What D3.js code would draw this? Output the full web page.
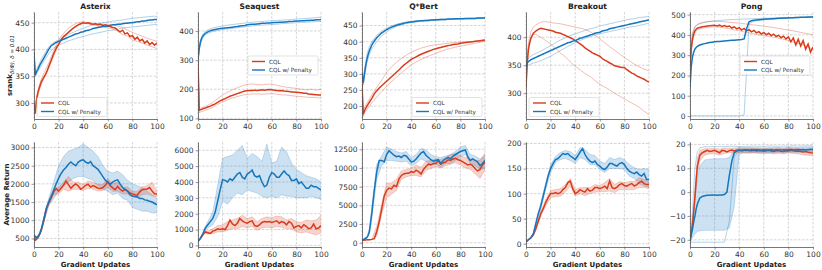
<!DOCTYPE html>
<html>
<head>
<meta charset="utf-8">
<script src="https://cdn.jsdelivr.net/npm/d3@7"></script>
<style>
  body { margin: 0; background: #fff; }
  svg text { font-family: "DejaVu Sans", sans-serif; }
</style>
</head>
<body>
<div class="chart"></div>
<script>
// x grids: fine one for the mean curves, coarse one for seeds / bands
const XF = [0,1,2,3,4,5,6,8,10,12,14,16,18,20,22,24,26,28,30,32,34,36,38,40,42,44,46,48,50,52,54,56,58,60,62,64,66,68,70,72,74,76,78,80,82,84,86,88,90,92,94,96,98,100]
const XC = [0,1,2,4,6,8,12,16,20,24,28,32,36,40,44,48,52,56,60,64,68,72,76,80,84,88,92,96,100]

const games = ["Asterix", "Seaquest", "Q*Bert", "Breakout", "Pong"]
const xTicks = [0, 20, 40, 60, 80, 100]

// ---------- srank (top row) ----------
const asterixSrankCQL = [300,280,305,318,326,333,340,348,356,368,380,392,402,410,418,424,428,432,436,440,443,446,448,450,449,450,448,447,448,446,447,445,446,444,443,441,440,436,433,436,429,431,424,426,419,423,416,419,412,416,409,413,408,412]
const asterixSrankPen = [395,352,358,362,367,372,376,384,392,400,407,410,413,415,417,419,421,423,425,427,429,430,432,433,435,436,437,439,440,441,442,443,443,444,445,446,446,447,447,448,449,449,450,450,451,452,452,453,453,454,455,455,456,456]
const asterixSrankCQLSeedA = [300,282,310,330,345,355,375,398,418,430,440,446,450,452,450,449,448,447,447,446,444,441,436,432,428,425,421,418,415]
const asterixSrankCQLSeedB = [300,285,300,322,335,345,365,388,408,422,432,440,446,449,448,446,444,443,441,438,434,428,425,418,415,412,408,405,402]
const asterixSrankPenSeedA = [395,355,362,372,382,390,405,413,418,423,428,432,436,440,443,446,448,450,451,453,454,455,457,458,459,460,461,462,462]
const asterixSrankPenSeedB = [395,350,354,362,370,378,392,403,408,412,416,419,422,424,427,429,431,433,435,436,438,440,441,442,443,444,445,446,447]

const seaquestSrankCQL = [295,128,130,131,133,135,136,139,142,146,150,155,160,164,168,172,176,179,182,185,188,191,194,195,196,196,197,196,197,198,197,198,199,198,197,196,195,196,194,193,192,191,191,190,189,188,186,186,184,183,182,181,180,180]
const seaquestSrankPen = [300,340,362,375,383,388,392,397,401,403,405,407,408,409,410,411,412,413,414,415,417,418,419,421,422,423,423,424,425,426,426,427,427,428,429,429,430,430,431,431,432,432,433,434,434,435,435,436,436,437,437,438,438,439]
const seaquestSrankCQLSeedA = [300,130,134,138,142,145,155,168,180,190,198,205,212,217,218,216,215,217,218,214,210,207,205,203,200,198,200,197,200]
const seaquestSrankCQLSeedB = [290,120,122,125,128,131,138,148,156,164,170,175,180,182,184,184,183,184,185,183,181,180,178,176,175,173,172,171,170]
const seaquestSrankPenSeedA = [300,345,370,390,398,404,410,414,417,420,422,424,426,428,430,431,432,434,435,436,437,438,439,441,442,443,444,446,447]
const seaquestSrankPenSeedB = [300,335,355,378,386,392,398,402,405,407,409,411,413,415,417,419,420,421,422,423,425,426,427,428,429,430,431,432,433]

const qbertSrankCQL = [270,175,185,193,200,206,212,224,238,248,256,263,270,277,284,291,298,305,312,320,327,333,339,345,349,353,357,361,364,367,370,373,376,378,380,382,384,386,388,389,391,392,393,395,396,397,398,399,400,401,402,403,404,405]
const qbertSrankPen = [300,272,300,325,345,360,372,390,402,412,420,427,432,437,441,445,448,451,453,455,457,459,460,461,462,463,464,465,465,466,466,467,467,468,468,469,469,469,470,470,470,471,471,471,471,472,472,472,472,472,473,473,473,473]
const qbertSrankCQLSeedA = [270,180,195,210,222,235,258,280,305,322,336,348,358,367,374,380,384,388,390,392,394,396,397,398,399,400,401,402,403]
const qbertSrankCQLSeedB = [265,168,178,190,200,210,228,245,262,276,290,303,316,328,337,345,352,358,364,370,375,379,383,386,389,392,395,398,402]
const qbertSrankPenSeedA = [305,285,315,360,385,400,420,433,442,449,454,458,461,463,465,466,467,468,469,470,470,471,471,472,472,473,473,474,474]
const qbertSrankPenSeedB = [295,265,290,335,360,378,400,418,430,440,447,452,456,459,461,463,464,465,466,467,468,469,469,470,470,471,471,472,472]

const breakoutSrankCQL = [310,355,378,390,398,403,407,411,414,416,415,414,413,412,411,409,408,407,405,403,401,399,397,394,391,388,385,381,378,375,372,370,368,366,362,359,357,354,352,349,348,347,346,346,342,339,336,334,331,329,327,325,322,320]
const breakoutSrankPen = [345,354,357,358,360,361,362,364,366,368,370,372,374,376,378,380,382,384,386,388,390,391,393,394,396,398,399,401,402,404,405,407,408,409,411,412,413,415,416,417,418,419,420,421,422,423,424,425,426,427,428,429,430,431]
const breakoutSrankCQLSeedA = [310,365,390,410,418,422,427,428,426,425,424,422,420,418,416,414,410,404,397,390,383,377,370,364,358,352,347,343,340]
const breakoutSrankCQLSeedB = [310,355,385,400,405,405,400,394,388,380,372,365,356,348,342,335,330,323,316,311,306,300,295,290,285,280,275,268,262]
const breakoutSrankPenSeedA = [350,360,363,366,369,371,375,380,385,390,395,399,403,406,409,412,415,417,420,422,424,426,428,430,432,433,435,436,437]
const breakoutSrankPenSeedB = [340,348,350,352,354,355,358,362,366,371,376,381,386,390,394,398,401,404,406,408,410,412,414,416,418,419,421,423,425]

const pongSrankCQL = [250,330,378,405,420,428,433,437,440,442,444,445,446,447,444,448,442,446,440,444,434,440,430,436,424,432,420,426,415,422,410,416,404,412,400,408,396,404,392,398,386,394,380,390,366,385,350,378,345,372,330,355,315,340]
const pongSrankPen = [140,245,290,315,330,338,344,350,354,357,360,362,364,366,367,368,369,370,371,372,373,374,375,376,377,380,430,465,470,472,474,475,476,477,478,479,480,480,481,482,482,483,484,484,485,485,486,486,487,487,487,488,488,488]
const pongSrankCQLSeedA = [240,360,410,440,452,458,464,467,468,467,465,462,460,458,455,452,449,446,443,440,436,432,428,424,420,415,410,405,400]
const pongSrankCQLSeedB = [250,320,370,410,425,430,435,438,440,438,434,430,425,420,415,410,405,400,396,392,388,384,378,372,365,358,350,340,330]
const pongSrankPenSeedA = [0,0,0,0,0,0,0,0,0,0,0,0,0,0,5,455,468,472,475,477,479,480,482,483,484,485,486,487,487]
const pongSrankPenSeedB = [150,330,400,440,450,455,462,466,469,471,473,475,476,477,478,479,480,481,482,483,484,485,485,486,486,487,487,488,488]

// ---------- average return (bottom row) ----------
const asterixRetCQL = [550,450,480,520,580,650,740,1000,1300,1480,1620,1780,1870,1800,1880,1960,2080,1980,1880,1950,2000,1940,1850,1900,1960,1990,1910,1950,1920,1880,1870,1900,1960,2060,1950,1890,1840,1930,1850,1800,1850,1810,1750,1720,1700,1690,1780,1840,1850,1860,1900,1800,1730,1720]
const asterixRetPen = [600,550,520,540,580,650,750,1020,1330,1500,1650,1820,2000,2150,2280,2380,2450,2540,2600,2540,2500,2600,2640,2660,2600,2560,2610,2500,2450,2400,2300,2200,2100,2040,1990,2050,2090,2110,2000,1900,1850,1800,1700,1660,1650,1640,1600,1600,1560,1550,1520,1500,1460,1420]
const asterixRetCQLLo = [520,430,450,550,700,950,1420,1700,1720,1850,1800,1850,1850,1820,1880,1850,1800,1820,1900,1800,1800,1720,1720,1650,1620,1700,1720,1680,1640]
const asterixRetCQLHi = [580,480,520,620,800,1080,1560,1880,1900,2050,2200,2050,2050,1980,2080,2050,1980,1980,2150,2000,2050,1900,1920,1800,1780,1920,1950,2050,1800]
const asterixRetPenLo = [580,520,490,540,700,950,1400,1600,1800,1950,2050,2150,2200,2200,2150,2100,1950,1850,1800,1700,1750,1600,1550,1350,1300,1250,1250,1200,1200]
const asterixRetPenHi = [620,580,550,640,800,1100,1600,2050,2500,2750,2900,2950,3000,3100,3000,2900,2750,2500,2350,2300,2350,2250,2100,2000,1950,1900,1800,1700,1600]

const seaquestRetCQL = [250,350,450,560,680,780,850,800,750,900,950,1050,1000,1050,1000,1250,1600,1350,1250,1400,1700,1550,1450,1400,1500,1550,1250,1200,1300,1450,1500,1480,1500,1450,1500,1550,1400,1500,1450,1300,1500,1400,1100,1200,1250,1100,1300,1200,1050,1100,1350,1050,1100,1250]
const seaquestRetPen = [250,350,450,600,750,920,1100,1300,1500,1700,2100,2800,3500,4150,4100,4000,4200,4100,4300,4500,4600,4300,4200,4500,4600,4750,4400,4300,4400,4000,3700,3800,4300,4600,4500,4300,4300,4500,4700,4500,4400,4100,4100,4200,3900,4000,3800,3600,3600,3800,3700,3700,3600,3500]
const seaquestRetCQLLo = [230,330,420,620,750,700,750,850,850,950,1050,1050,1200,1100,1200,950,1100,1150,1100,1200,1150,1050,1050,850,800,850,750,650,800]
const seaquestRetCQLHi = [270,370,480,740,950,900,1050,1250,1300,1500,1600,1700,1900,1700,1800,1500,1700,1800,1750,1850,1800,1600,1700,1500,1450,1600,1550,1600,1900]
const seaquestRetPenLo = [230,330,420,700,1000,1100,1300,1800,2800,2600,3000,3300,3200,3500,3400,3300,3100,3000,3100,3000,3200,3100,3100,3000,3000,3000,3100,3000,2900]
const seaquestRetPenHi = [270,370,480,800,1200,1500,2100,3800,5500,5600,5700,6000,6300,5500,5800,5600,5300,6400,5200,5300,6200,5900,5200,4800,4600,4400,4300,4200,4000]

const qbertRetCQL = [300,330,350,380,400,400,400,450,550,1500,2800,4500,6200,7000,7300,7200,7700,7500,8500,9000,9200,9300,9300,9500,9400,9700,9500,9200,9800,10200,10500,10400,10600,10600,11000,10500,10700,10800,11100,11000,11200,11300,11100,11000,10800,10600,10400,10500,10300,9900,9600,9800,10400,10800]
const qbertRetPen = [300,400,500,600,700,1000,1500,4000,7000,9500,11000,11000,10800,11800,12300,12000,11700,11500,11600,11400,11700,11600,11200,10800,10900,11200,11600,12000,12200,11700,11400,11100,10900,11000,11100,10600,11000,11200,11400,11200,11600,11800,12000,12200,12300,12400,11500,11000,11200,11000,10800,10300,10600,11000]
const qbertRetCQLLo = [280,310,330,380,380,400,900,3800,6000,6500,7000,8500,8800,9000,9000,8800,9700,9900,10200,10000,10300,10500,10700,10400,10000,9800,9200,8600,9800]
const qbertRetCQLHi = [320,350,370,420,420,500,2200,5200,8000,8000,8500,9600,9800,10000,10400,10100,10900,11000,11200,11100,11400,11800,11900,11600,11400,11200,11000,11000,12000]
const qbertRetPenLo = [280,350,450,600,1200,3200,8500,10300,11000,11000,10900,10800,10900,10300,10600,11200,10900,10400,10500,10100,10600,10600,11000,11500,11800,10600,10300,9800,9900]
const qbertRetPenHi = [320,450,550,800,1900,4800,10500,11600,12800,12500,12200,12000,12200,11400,11800,12600,12400,11800,11500,11400,11600,11800,12200,12800,13000,11800,11600,11200,11600]

const breakoutRetCQL = [5,6,8,10,12,15,18,30,45,60,70,82,92,100,100,102,100,102,108,112,122,125,110,100,103,108,105,103,110,105,107,112,112,110,112,115,110,125,112,110,113,118,120,116,115,118,120,115,118,122,125,120,118,118]
const breakoutRetPen = [5,6,8,10,12,16,20,40,60,75,95,115,135,150,160,168,170,175,180,178,180,175,172,168,175,183,190,178,170,165,162,165,158,155,150,148,153,160,160,157,155,160,162,158,150,145,142,140,143,138,135,140,128,128]
const breakoutRetCQLLo = [4,5,7,11,16,27,55,75,92,94,95,103,115,95,100,96,100,103,104,104,105,102,108,108,108,108,112,112,110]
const breakoutRetCQLHi = [6,7,9,13,20,33,64,88,106,108,110,118,130,108,112,112,112,118,116,122,130,118,124,122,124,124,132,128,124]
const breakoutRetPenLo = [4,5,7,11,18,36,68,108,142,162,168,170,166,160,172,168,158,158,148,142,150,150,150,148,135,130,120,115,112]
const breakoutRetPenHi = [6,7,9,13,22,44,82,122,158,174,182,186,184,176,192,188,178,176,165,160,172,168,172,168,158,152,148,150,148]

const pongRetCQL = [-20,-17,-14,-8,-2,5,11,15.5,16.5,17,17.5,17,17.2,17.5,17,16.5,17.5,17.3,16.8,17.4,17.6,17.2,17.5,17.6,17.3,17.5,17.6,17.4,17.3,17.5,17.2,17.4,17.3,17.1,17.3,17.5,17.2,17,17.3,17.4,17.1,17,17.3,17.2,17.5,17.3,17.1,17.2,17,16.8,17,16.7,16.5,16.4]
const pongRetPen = [-20.5,-18,-15.5,-12.5,-10,-7,-5,-2.5,-1.8,-1.5,-1.3,-1.3,-1.2,-1.2,-1.3,-1.2,-1.2,-1,0,7,13,16.5,17.2,17.5,17.5,17.6,17.6,17.5,17.7,17.6,17.7,17.6,17.5,17.7,17.6,17.5,17.7,17.6,17.8,17.7,17.6,17.8,17.7,17.8,17.9,17.7,17.8,17.9,17.8,17.9,17.8,17.9,18,18]
const pongRetCQLLo = [-20.5,-18,-15,-4,8,13,15.5,16,16.2,15.5,16.2,16.5,16.3,16.5,16.4,16.3,16.4,16.2,16.1,16.3,16,16.3,16,16.4,16.2,16,15.6,15.5,15.2]
const pongRetCQLHi = [-19.5,-16,-13,0,14,17.5,18.2,18.2,18.4,18,18.5,18.4,18.5,18.6,18.5,18.5,18.4,18.3,18.1,18.4,18.1,18.4,18.1,18.5,18.3,18.2,18,17.8,17.6]
const pongRetPenLo = [-21,-20,-19,-17.5,-16.5,-16.2,-16,-16,-16,-16,-16,-15,-6,16,16.5,16.5,16.6,16.6,16.5,16.5,16.6,16.7,16.6,16.7,16.7,16.7,16.8,16.8,16.9]
const pongRetPenHi = [-20,-16,-12,-2,6,11,13.5,13.8,14,14,14,14.5,17.5,18.5,18.6,18.6,18.6,18.6,18.5,18.6,18.7,18.7,18.6,18.8,18.8,18.7,18.9,18.9,19]
const pongRetPenSeedLow = [-21,-21,-21,-21,-21,-21,-21,-21,-21,-21,-21,-12,15,17,17.2,17.2,17.3,17.3,17.2,17.3,17.4,17.4,17.3,17.4,17.4,17.4,17.5,17.5,17.6]
const pongRetPenSeedHigh = [-20,-15,-8,10,17,18.5,19,19,19.1,19,19.1,19.2,19.2,19.1,19.2,19.2,19.3,19.2,19.2,19.3,19.3,19.2,19.3,19.3,19.4,19.3,19.4,19.4,19.4]

// axes
const srankDomains = [[270, 470], [98, 465], [160, 492], [254, 445], [-15, 513]]
const srankTicks = [[300, 350, 400, 450], [100, 200, 300, 400], [200, 250, 300, 350, 400, 450], [300, 350, 400], [0, 100, 200, 300, 400, 500]]
const returnDomains = [[265, 3150], [-100, 6520], [-570, 13470], [-6.5, 203], [-23, 21]]
const returnTicks = [[500, 1000, 1500, 2000, 2500, 3000], [0, 1000, 2000, 3000, 4000, 5000, 6000], [0, 2500, 5000, 7500, 10000, 12500], [0, 50, 100, 150, 200], [-20, -10, 0, 10, 20]]
const legendSpots = ["lowerleft", "centerright", "lowerright", "lowerleft", "centerright"]
const seriesNames = ["CQL", "CQL w/ Penalty"]

const srankRows = [
  { cql: asterixSrankCQL, pen: asterixSrankPen, cqlSeeds: [asterixSrankCQLSeedA, asterixSrankCQLSeedB], penSeeds: [asterixSrankPenSeedA, asterixSrankPenSeedB] },
  { cql: seaquestSrankCQL, pen: seaquestSrankPen, cqlSeeds: [seaquestSrankCQLSeedA, seaquestSrankCQLSeedB], penSeeds: [seaquestSrankPenSeedA, seaquestSrankPenSeedB] },
  { cql: qbertSrankCQL, pen: qbertSrankPen, cqlSeeds: [qbertSrankCQLSeedA, qbertSrankCQLSeedB], penSeeds: [qbertSrankPenSeedA, qbertSrankPenSeedB] },
  { cql: breakoutSrankCQL, pen: breakoutSrankPen, cqlSeeds: [breakoutSrankCQLSeedA, breakoutSrankCQLSeedB], penSeeds: [breakoutSrankPenSeedA, breakoutSrankPenSeedB] },
  { cql: pongSrankCQL, pen: pongSrankPen, cqlSeeds: [pongSrankCQLSeedA, pongSrankCQLSeedB], penSeeds: [pongSrankPenSeedA, pongSrankPenSeedB] }
]
const returnRows = [
  { cql: asterixRetCQL, pen: asterixRetPen, cqlBand: [asterixRetCQLLo, asterixRetCQLHi], penBand: [asterixRetPenLo, asterixRetPenHi], penSeeds: [] },
  { cql: seaquestRetCQL, pen: seaquestRetPen, cqlBand: [seaquestRetCQLLo, seaquestRetCQLHi], penBand: [seaquestRetPenLo, seaquestRetPenHi], penSeeds: [] },
  { cql: qbertRetCQL, pen: qbertRetPen, cqlBand: [qbertRetCQLLo, qbertRetCQLHi], penBand: [qbertRetPenLo, qbertRetPenHi], penSeeds: [] },
  { cql: breakoutRetCQL, pen: breakoutRetPen, cqlBand: [breakoutRetCQLLo, breakoutRetCQLHi], penBand: [breakoutRetPenLo, breakoutRetPenHi], penSeeds: [] },
  { cql: pongRetCQL, pen: pongRetPen, cqlBand: [pongRetCQLLo, pongRetCQLHi], penBand: [pongRetPenLo, pongRetPenHi], penSeeds: [pongRetPenSeedLow, pongRetPenSeedHigh] }
]

const width = 822
const height = 270
const red = "#d83c1c"
const blue = "#1575bd"
const panelW = 123
const panelLeft = 34
const panelStep = 164
const rowTop = [12, 142]
const rowH = [107, 105]

const svg = d3.select(".chart").append("svg")
  .attr("width", width).attr("height", height)
  .attr("viewBox", `0 0 ${width} ${height}`)

const drawPanel = (i, row, domain, ticks, data, isTop) => {
  const left = panelLeft + i * panelStep
  const top = rowTop[row]
  const h = rowH[row]
  const g = svg.append("g").attr("transform", `translate(${left}, ${top})`)

  const x = d3.scaleLinear().domain([0, 100]).range([0, panelW])
  const y = d3.scaleLinear().domain(domain).range([h, 0])

  // grid
  g.append("g").selectAll("line").data(ticks).join("line")
    .attr("x1", 0).attr("x2", panelW)
    .attr("y1", d => y(d)).attr("y2", d => y(d))
    .attr("stroke", "#b8b8b8").attr("stroke-width", 0.6).attr("stroke-dasharray", "2.6,1.4")
  g.append("g").selectAll("line").data(xTicks).join("line")
    .attr("y1", 0).attr("y2", h)
    .attr("x1", d => x(d)).attr("x2", d => x(d))
    .attr("stroke", "#b8b8b8").attr("stroke-width", 0.6).attr("stroke-dasharray", "2.6,1.4")

  const clipId = `clip-${row}-${i}`
  g.append("clipPath").attr("id", clipId).append("rect")
    .attr("x", 0).attr("y", 0).attr("width", panelW).attr("height", h)
  const plot = g.append("g").attr("clip-path", `url(#${clipId})`)

  const lineF = d3.line().x((d, k) => x(XF[k])).y(d => y(d))
  const lineC = d3.line().x((d, k) => x(XC[k])).y(d => y(d))

  if (isTop) {
    data.cqlSeeds.forEach(s => plot.append("path").attr("d", lineC(s))
      .attr("fill", "none").attr("stroke", red).attr("stroke-opacity", 0.42).attr("stroke-width", 0.8))
    data.penSeeds.forEach(s => plot.append("path").attr("d", lineC(s))
      .attr("fill", "none").attr("stroke", blue).attr("stroke-opacity", 0.42).attr("stroke-width", 0.8))
  } else {
    const bands = [[data.penBand, blue], [data.cqlBand, red]]
    bands.forEach(([band, col]) => {
      const [lo, hi] = band
      const area = d3.area().x((d, k) => x(XC[k])).y0((d, k) => y(lo[k])).y1((d, k) => y(hi[k]))
      plot.append("path").attr("d", area(lo)).attr("fill", col).attr("fill-opacity", 0.22)
      ;[lo, hi].forEach(s => plot.append("path").attr("d", lineC(s))
        .attr("fill", "none").attr("stroke", col).attr("stroke-opacity", 0.3).attr("stroke-width", 0.7))
    })
    data.penSeeds.forEach(s => plot.append("path").attr("d", lineC(s))
      .attr("fill", "none").attr("stroke", blue).attr("stroke-opacity", 0.4).attr("stroke-width", 0.8))
  }

  plot.append("path").attr("d", lineF(data.cql))
    .attr("fill", "none").attr("stroke", red).attr("stroke-width", 1.5)
  plot.append("path").attr("d", lineF(data.pen))
    .attr("fill", "none").attr("stroke", blue).attr("stroke-width", 1.5)

  // axes
  const yAxis = d3.axisLeft(y).tickValues(ticks).tickSize(2.5).tickSizeOuter(0).tickPadding(2)
    .tickFormat(d3.format("d"))
  const xAxis = d3.axisBottom(x).tickValues(xTicks).tickSize(2.5).tickSizeOuter(0).tickPadding(2)
  const ya = g.append("g").call(yAxis)
  const xa = g.append("g").attr("transform", `translate(0, ${h})`).call(xAxis)
  ;[ya, xa].forEach(a => {
    a.select(".domain").attr("stroke", "#555").attr("stroke-width", 0.8)
    a.selectAll(".tick line").attr("stroke", "#555").attr("stroke-width", 0.6)
    a.selectAll(".tick text").attr("fill", "#333").style("font-size", "7.5px")
  })

  if (isTop) {
    g.append("text").attr("x", panelW / 2).attr("y", -3.5)
      .attr("text-anchor", "middle").style("font-size", "7.6px").style("font-weight", "bold")
      .attr("fill", "#222").text(games[i])

    // legend
    const lw = 70, lh = 19
    const spot = legendSpots[i]
    const lx = spot === "lowerleft" ? 3 : panelW - lw - 3
    const ly = spot.startsWith("lower") ? h - lh - 2.5 : h / 2 - lh / 2
    const leg = g.append("g").attr("transform", `translate(${lx}, ${ly})`)
    leg.append("rect").attr("width", lw).attr("height", lh).attr("rx", 1.5)
      .attr("fill", "#fff").attr("fill-opacity", 0.85).attr("stroke", "#d0d0d0").attr("stroke-width", 0.6)
    seriesNames.forEach((name, k) => {
      const yy = 5.5 + k * 8.5
      leg.append("line").attr("x1", 4).attr("x2", 17).attr("y1", yy).attr("y2", yy)
        .attr("stroke", k === 0 ? red : blue).attr("stroke-width", 1.4)
      leg.append("text").attr("x", 21).attr("y", yy + 2).style("font-size", "5.7px")
        .attr("fill", "#333").text(name)
    })
  } else {
    g.append("text").attr("x", panelW / 2).attr("y", h + 20)
      .attr("text-anchor", "middle").style("font-size", "7px").style("font-weight", "bold")
      .attr("fill", "#222").text("Gradient Updates")
  }
}

games.forEach((name, i) => {
  drawPanel(i, 0, srankDomains[i], srankTicks[i], srankRows[i], true)
  drawPanel(i, 1, returnDomains[i], returnTicks[i], returnRows[i], false)
})

// y labels
const srankLabel = svg.append("text")
  .attr("transform", `translate(12, ${rowTop[0] + rowH[0] / 2}) rotate(-90)`)
  .attr("text-anchor", "middle").attr("fill", "#222")
srankLabel.append("tspan").style("font-size", "7px").style("font-weight", "bold").text("srank")
srankLabel.append("tspan").style("font-size", "5.5px").style("font-style", "italic").attr("dy", 1.8)
  .text("δ(Φ), δ = 0.01")

svg.append("text")
  .attr("transform", `translate(8.5, ${rowTop[1] + rowH[1] / 2}) rotate(-90)`)
  .attr("text-anchor", "middle").style("font-size", "7px").style("font-weight", "bold")
  .attr("fill", "#222").text("Average Return")
</script>
</body>
</html>
